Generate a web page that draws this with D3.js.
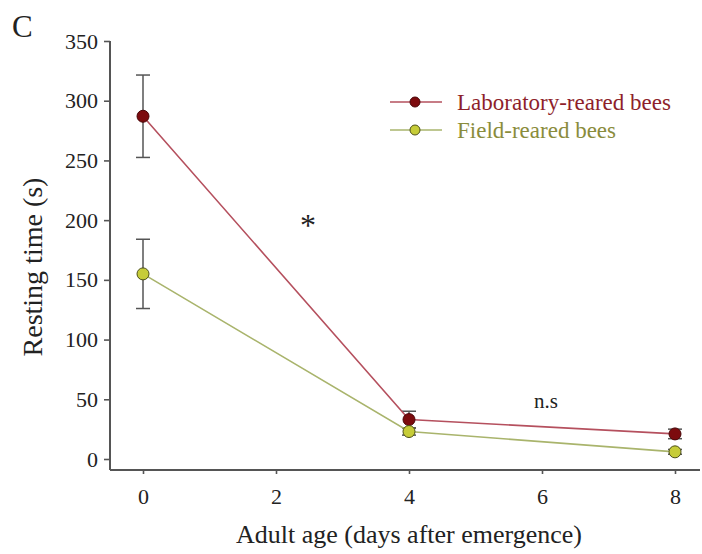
<!DOCTYPE html>
<html>
<head>
<meta charset="utf-8">
<script src="https://cdn.jsdelivr.net/npm/d3@7"></script>
<style>
  body { margin: 0; background: #fff; }
  svg, svg text { font-family: "Liberation Serif", "Times New Roman", "DejaVu Serif", serif; }
</style>
</head>
<body>
<svg id="chart" width="702" height="554"></svg>
<script>
// Adult age (days after emergence)
const days = [0, 4, 8];
// Resting time (s), mean and error
const labMean = [287, 33, 21];
const labErr = [34.5, 7, 4];
const fieldMean = [155, 23, 6];
const fieldErr = [29, 3, 2];
const xTicks = [0, 2, 4, 6, 8];
const yTicks = [0, 50, 100, 150, 200, 250, 300, 350];

const series = [
  { name: "Laboratory-reared bees", mean: labMean, err: labErr,
    line: "#b5505e", fill: "#7c0b0e", stroke: "#4a0608", text: "#8e1f2b" },
  { name: "Field-reared bees", mean: fieldMean, err: fieldErr,
    line: "#a9b46c", fill: "#c6cc38", stroke: "#4d5018", text: "#8a8c3c" }
];

const serif = "'Liberation Serif', 'Times New Roman', serif";
const svg = d3.select("#chart").attr("font-family", serif);
const x = d3.scaleLinear().domain([0, 8]).range([143, 675]);
const y = d3.scaleLinear().domain([0, 350]).range([459, 41]);
const axisColor = "#555";

// Y axis
const yAxis = svg.append("g").attr("transform", "translate(110,0)")
  .call(d3.axisLeft(y).tickValues(yTicks).tickSize(6).tickPadding(6).tickSizeOuter(0));
yAxis.select(".domain").attr("d", `M0,${y(350)}V470`);

// X axis
const xAxis = svg.append("g").attr("transform", "translate(0,470)")
  .call(d3.axisBottom(x).tickValues(xTicks).tickSize(4).tickPadding(14).tickSizeOuter(0));
xAxis.select(".domain").attr("d", "M110,0H700");

[yAxis, xAxis].forEach(a => a.attr("font-family", serif).attr("font-size", 22));
svg.selectAll(".tick text").attr("fill", "#222");
svg.selectAll(".domain").attr("stroke", axisColor).attr("stroke-width", 2);
svg.selectAll(".tick line").attr("stroke", axisColor).attr("stroke-width", 1.6);

// Error bars
series.forEach(s => {
  const g = svg.append("g");
  days.forEach((d, i) => {
    const cx = x(d), top = y(s.mean[i] + s.err[i]), bot = y(s.mean[i] - s.err[i]);
    g.append("line").attr("x1", cx).attr("x2", cx).attr("y1", top).attr("y2", bot)
      .attr("stroke", "#555").attr("stroke-width", 1.5);
    [top, bot].forEach(yy => g.append("line").attr("x1", cx - 7).attr("x2", cx + 7)
      .attr("y1", yy).attr("y2", yy).attr("stroke", "#555").attr("stroke-width", 1.5));
  });
});

// Lines and points
const line = d3.line().x((d, i) => x(days[i])).y(d => y(d));
series.forEach(s => {
  svg.append("path").datum(s.mean).attr("d", line)
    .attr("fill", "none").attr("stroke", s.line).attr("stroke-width", 1.6);
});
series.forEach(s => {
  svg.append("g").selectAll("circle").data(s.mean).join("circle")
    .attr("cx", (d, i) => x(days[i])).attr("cy", d => y(d)).attr("r", 6)
    .attr("fill", s.fill).attr("stroke", s.stroke).attr("stroke-width", 1);
});

// Legend
series.forEach((s, i) => {
  const ly = 102 + i * 28;
  svg.append("line").attr("x1", 390).attr("x2", 442).attr("y1", ly).attr("y2", ly)
    .attr("stroke", s.line).attr("stroke-width", 1.6);
  svg.append("circle").attr("cx", 415).attr("cy", ly).attr("r", 5)
    .attr("fill", s.fill).attr("stroke", s.stroke).attr("stroke-width", 1);
  svg.append("text").attr("x", 457).attr("y", ly + 8).attr("font-size", 23)
    .attr("fill", s.text).text(s.name);
});

// Significance marks
svg.append("text").attr("x", 308).attr("y", 236).attr("text-anchor", "middle")
  .attr("font-size", 32).attr("fill", "#222").text("*");
svg.append("text").attr("x", 546).attr("y", 408).attr("text-anchor", "middle")
  .attr("font-size", 21).attr("fill", "#222").text("n.s");

// Axis titles and panel letter
svg.append("text").attr("transform", "translate(42,267) rotate(-90)")
  .attr("text-anchor", "middle").attr("font-size", 28).attr("fill", "#222")
  .text("Resting time (s)");
svg.append("text").attr("x", 409).attr("y", 543).attr("text-anchor", "middle")
  .attr("font-size", 26).attr("fill", "#222").text("Adult age (days after emergence)");
svg.append("text").attr("x", 12).attr("y", 37).attr("font-size", 31)
  .attr("fill", "#222").text("C");
</script>
</body>
</html>
